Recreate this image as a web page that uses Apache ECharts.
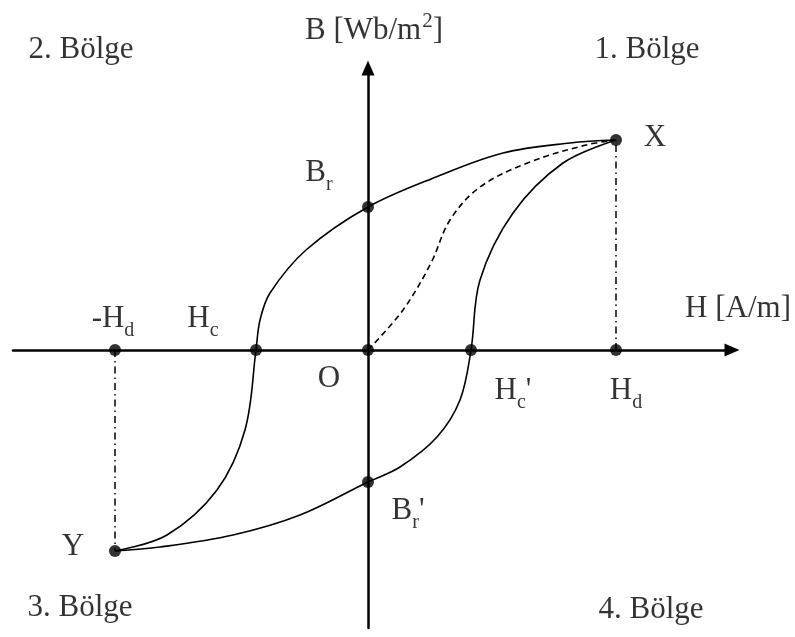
<!DOCTYPE html>
<html>
<head>
<meta charset="utf-8">
<script src="https://cdn.jsdelivr.net/npm/echarts@6/dist/echarts.min.js"></script>
<style>
  html, body { margin: 0; padding: 0; background: #fff; }
  #chart { width: 795px; height: 637px; }
</style>
</head>
<body>
<div id="chart"></div>
<script>
// histerezis egrisi (B-H), birimler: ekran ölçeğinde okunan değerler
const upperBranch = [[-253,-201],[-201,-185],[-151,-140],[-123,-80],[-112,0],[-108,30],[-98,57],[-62,100],[0,143],[68,173],[135,197],[202,207],[248,210]];
const lowerBranch = [[248,210],[195,187],[145,137],[112,70],[103,0],[92,-50],[69,-87],[32,-117],[0,-132],[-68,-165],[-135,-185],[-208,-197],[-253,-201]];
const initialCurve = [[0,0],[35,40],[63,87],[82,130],[112,163],[162,188],[218,205],[248,210]];

// işaretli noktalar
const keyPoints = [[0,0],[-112,0],[103,0],[-253,0],[248,0],[0,143],[0,-132],[248,210],[-253,-201]];
const dropX = [[248,0],[248,210]];
const dropY = [[-253,0],[-253,-201]];

// yazılar: [metin, H, B]
const labels = [
  ['{m|2. Bölge}', -287, 299],
  ['{m|1. Bölge}', 279, 299],
  ['{n|B [Wb/m}{p|2}{n|]}', 6, 322],
  ['{m|X}', 287, 211],
  ['{m|B}{s|r}', -49, 176],
  ['{m|-H}{s|d}', -255, 30],
  ['{m|H}{s|c}', -165, 30],
  ['{m|H [A/m]}', 370, 40],
  ['{m|O}', -39, -30],
  ["{m|H}{s|c}{m|'}", 145, -42],
  ['{m|H}{s|d}', 258, -42],
  ['{m|Y}', -295, -198],
  ["{m|B}{s|r}{m|'}", 40, -162],
  ['{m|3. Bölge}', -288, -259],
  ['{m|4. Bölge}', 283, -261]
];

const font = 'Liberation Serif';
let myChart = echarts.init(document.getElementById('chart'));
let option = {
  animation: false,
  backgroundColor: '#fff',
  grid: { left: 13, right: 63, top: 68, bottom: 9 },
  xAxis: {
    type: 'value', min: -355, max: 364,
    axisLine: { onZero: true, symbol: ['none', 'triangle'], symbolSize: [13, 15], lineStyle: { color: '#000', width: 2.5 } },
    axisTick: { show: false }, axisLabel: { show: false }, splitLine: { show: false }
  },
  yAxis: {
    type: 'value', min: -278, max: 282,
    axisLine: { onZero: true, symbol: ['none', 'triangle'], symbolSize: [13, 15], lineStyle: { color: '#000', width: 2.5 } },
    axisTick: { show: false }, axisLabel: { show: false }, splitLine: { show: false }
  },
  series: [
    {
      type: 'line', data: upperBranch, smooth: 0.35, symbol: 'none',
      lineStyle: { color: '#000', width: 1.6 }
    },
    {
      type: 'line', data: lowerBranch, smooth: 0.35, symbol: 'none',
      lineStyle: { color: '#000', width: 1.6 }
    },
    {
      type: 'line', data: initialCurve, smooth: 0.35, symbol: 'none',
      lineStyle: { color: '#000', width: 1.6, type: [6, 4] }
    },
    {
      type: 'line', data: dropX, symbol: 'none',
      lineStyle: { color: '#000', width: 1.5, type: [7, 4, 1.5, 4] }
    },
    {
      type: 'line', data: dropY, symbol: 'none',
      lineStyle: { color: '#000', width: 1.5, type: [7, 4, 1.5, 4] }
    },
    {
      type: 'scatter', data: keyPoints, symbolSize: 12,
      itemStyle: { color: '#000' }, z: 5
    },
    {
      type: 'scatter', symbolSize: 0, clip: false, silent: true,
      data: labels.map(l => ({ value: [l[1], l[2]], name: l[0] })),
      label: {
        show: true, position: 'inside', color: '#000',
        formatter: p => p.name,
        rich: {
          m: { fontFamily: font, fontSize: 31, lineHeight: 34, verticalAlign: 'top', color: '#000' },
          n: { fontFamily: font, fontSize: 31, lineHeight: 34, padding: [4, 0, 0, 0], verticalAlign: 'top', color: '#000' },
          s: { fontFamily: font, fontSize: 20, lineHeight: 20, padding: [18, 0, 0, 0], verticalAlign: 'top', color: '#000' },
          p: { fontFamily: font, fontSize: 21, lineHeight: 21, padding: [0, 0, 0, 1], verticalAlign: 'top', color: '#000' }
        }
      }
    }
  ]
};
option && myChart.setOption(option);
</script>
</body>
</html>
